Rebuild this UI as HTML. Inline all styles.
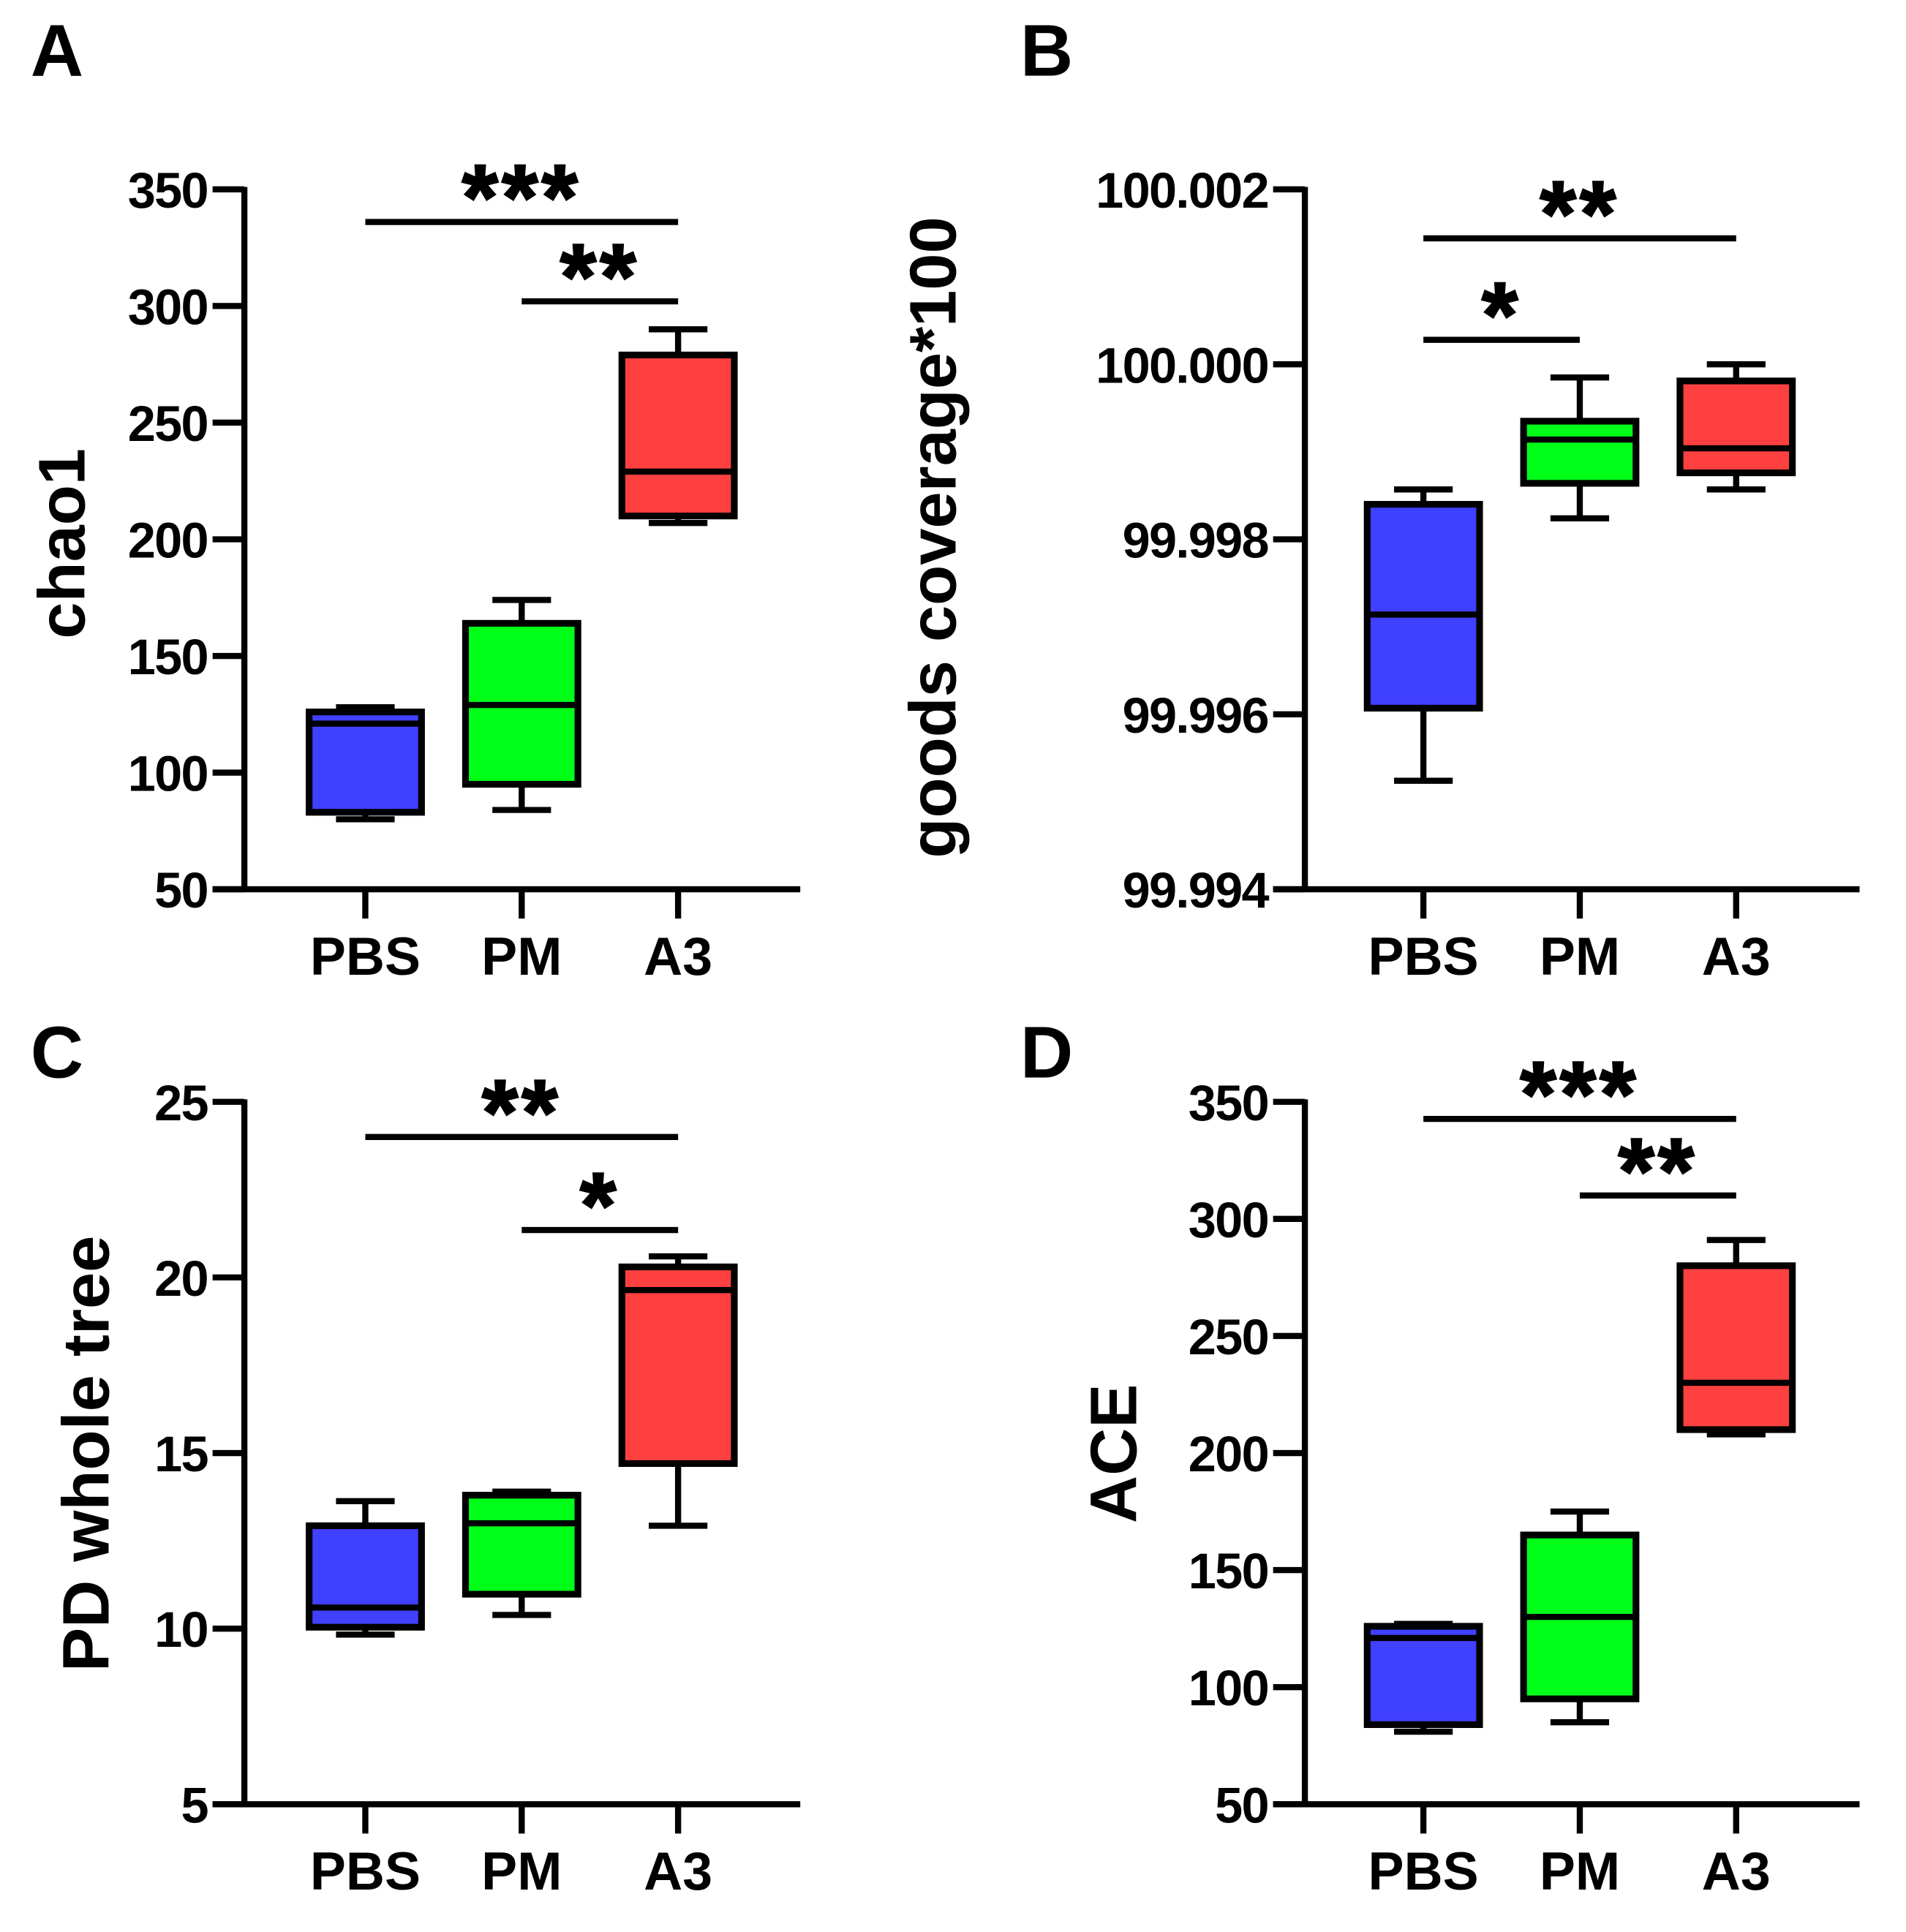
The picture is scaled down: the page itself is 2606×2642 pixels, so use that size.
<!DOCTYPE html>
<html><head><meta charset="utf-8"><style>
html,body{margin:0;padding:0;background:#fff;}
svg{display:block;}
text{font-family:"Liberation Sans",Arial,sans-serif;font-weight:bold;fill:#000;}
</style></head><body>
<svg id="fig" xmlns="http://www.w3.org/2000/svg" width="2606" height="2642" viewBox="0 0 1560 1581.6" preserveAspectRatio="none"></svg>
<script>
const categories = ["PBS","PM","A3"];
const colors = ["#4040ff","#00ff18","#ff4040"];
// panel A chao1 : [min,q1,median,q3,max]
const chaoPBS = [80,83,121,126,128];
const chaoPM  = [84,95,129,164,174];
const chaoA3  = [207,210,229,279,290];
const chaoTicks = [50,100,150,200,250,300,350];
// panel B goods coverage
const goodPBS = [99.99524,99.99607,99.99714,99.99840,99.99857];
const goodPM  = [99.99824,99.99864,99.99914,99.99935,99.99985];
const goodA3  = [99.99857,99.99876,99.99904,99.99981,100.0000];
const goodTicks = [99.994,99.996,99.998,100.000,100.002];
// panel C PD whole tree
const pdPBS = [9.83,10.04,10.6,12.93,13.63];
const pdPM  = [10.39,10.98,13.0,13.8,13.9];
const pdA3  = [12.93,14.7,19.64,20.3,20.6];
const pdTicks = [5,10,15,20,25];
// panel D ACE
const acePBS = [81,84,121,126,127];
const acePM  = [85,95,130,165,175];
const aceA3  = [208,210,230,280,291];
const aceTicks = [50,100,150,200,250,300,350];
// significance brackets: [fromIdx,toIdx,yValue,label]
const sigA = [[0,2,336,"***"],[1,2,302,"**"]];
const sigB = [[0,2,100.00144,"**"],[0,1,100.00028,"*"]];
const sigC = [[0,2,24.0,"**"],[1,2,21.35,"*"]];
const sigD = [[0,2,342.7,"***"],[1,2,310,"**"]];

const NS="http://www.w3.org/2000/svg";
const svg=document.getElementById('fig');
function mk(tag,attrs,parent){const e=document.createElementNS(NS,tag);for(const k in attrs)e.setAttribute(k,attrs[k]);(parent||svg).appendChild(e);return e;}

const panels=[
 {key:"a",letter:"A",lx:25,ly:62,ax:200,top:155,bot:728,right:655,cx:[299,427,555],ticks:chaoTicks,fmt:v=>String(v),data:[chaoPBS,chaoPM,chaoA3],sig:sigA,title:"chao1",tx:50,ty:445},
 {key:"b",letter:"B",lx:835,ly:62,ax:1068,top:155,bot:728,right:1522,cx:[1165,1293,1421],ticks:goodTicks,fmt:v=>v.toFixed(3),data:[goodPBS,goodPM,goodA3],sig:sigB,title:"goods coverage*100",tx:763,ty:440},
 {key:"c",letter:"C",lx:25,ly:882,ax:200,top:902,bot:1477,right:655,cx:[299,427,555],ticks:pdTicks,fmt:v=>String(v),data:[pdPBS,pdPM,pdA3],sig:sigC,title:"PD whole tree",tx:70,ty:1190},
 {key:"d",letter:"D",lx:835,ly:882,ax:1068,top:902,bot:1477,right:1522,cx:[1165,1293,1421],ticks:aceTicks,fmt:v=>String(v),data:[acePBS,acePM,aceA3],sig:sigD,title:"ACE",tx:911,ty:1190}
];

panels.forEach(p=>{
 const g=mk('g',{});
 
 
 const lo=p.ticks[0],hi=p.ticks[p.ticks.length-1];
 const y=v=>p.bot-(v-lo)/(hi-lo)*(p.bot-p.top);
 const L=mk('text',{x:p.lx,y:p.ly,'font-size':60},g);L.textContent=p.letter;
 
 
 const ya=mk('line',{x1:p.ax,y1:p.top-2,x2:p.ax,y2:p.bot+2,stroke:'#000','stroke-width':5},g);
 
 
 const xa=mk('line',{x1:p.ax-26,y1:p.bot,x2:p.right,y2:p.bot,stroke:'#000','stroke-width':5},g);
 
 
 p.ticks.forEach(t=>{
  mk('line',{x1:p.ax-26,y1:y(t),x2:p.ax,y2:y(t),stroke:'#000','stroke-width':5},g);
  const tl=mk('text',{x:p.ax-30,y:y(t)+15,'font-size':41,'text-anchor':'end','letter-spacing':-1},g);
  tl.textContent=p.fmt(t);
  
  
 });
 categories.forEach((c,i)=>{
  const x=p.cx[i];
  mk('line',{x1:x,y1:p.bot,x2:x,y2:p.bot+24,stroke:'#000','stroke-width':5},g);
  const cl=mk('text',{x:x,y:p.bot+70,'font-size':44,'text-anchor':'middle'},g);
  cl.textContent=c;
  
  
  const d=p.data[i];const w=46;
  const bg=mk('g',{},g);
  
  
  mk('line',{x1:x,y1:y(d[0]),x2:x,y2:y(d[4]),stroke:'#000','stroke-width':5},bg);
  mk('line',{x1:x-24,y1:y(d[0]),x2:x+24,y2:y(d[0]),stroke:'#000','stroke-width':5},bg);
  mk('line',{x1:x-24,y1:y(d[4]),x2:x+24,y2:y(d[4]),stroke:'#000','stroke-width':5},bg);
  mk('rect',{x:x-w,y:y(d[3]),width:2*w,height:y(d[1])-y(d[3]),fill:colors[i],stroke:'#000','stroke-width':5.5},bg);
  mk('line',{x1:x-w,y1:y(d[2]),x2:x+w,y2:y(d[2]),stroke:'#000','stroke-width':5},bg);
 });
 p.sig.forEach(s=>{
  const yy=y(s[2]);
  const sl=mk('line',{x1:p.cx[s[0]],y1:yy,x2:p.cx[s[1]],y2:yy,stroke:'#000','stroke-width':5},g);
  
  
  const st=mk('text',{x:(p.cx[s[0]]+p.cx[s[1]])/2,y:yy+6,'font-size':76,'text-anchor':'middle','letter-spacing':3,stroke:'#000','stroke-width':1.5},g);
  st.textContent=s[3];
  
  
 });
 const tt=mk('text',{x:0,y:0,'font-size':54,'text-anchor':'middle',transform:`translate(${p.tx+19},${p.ty}) rotate(-90)`},g);
 tt.textContent=p.title;
 
 
});
</script>
</body></html>
